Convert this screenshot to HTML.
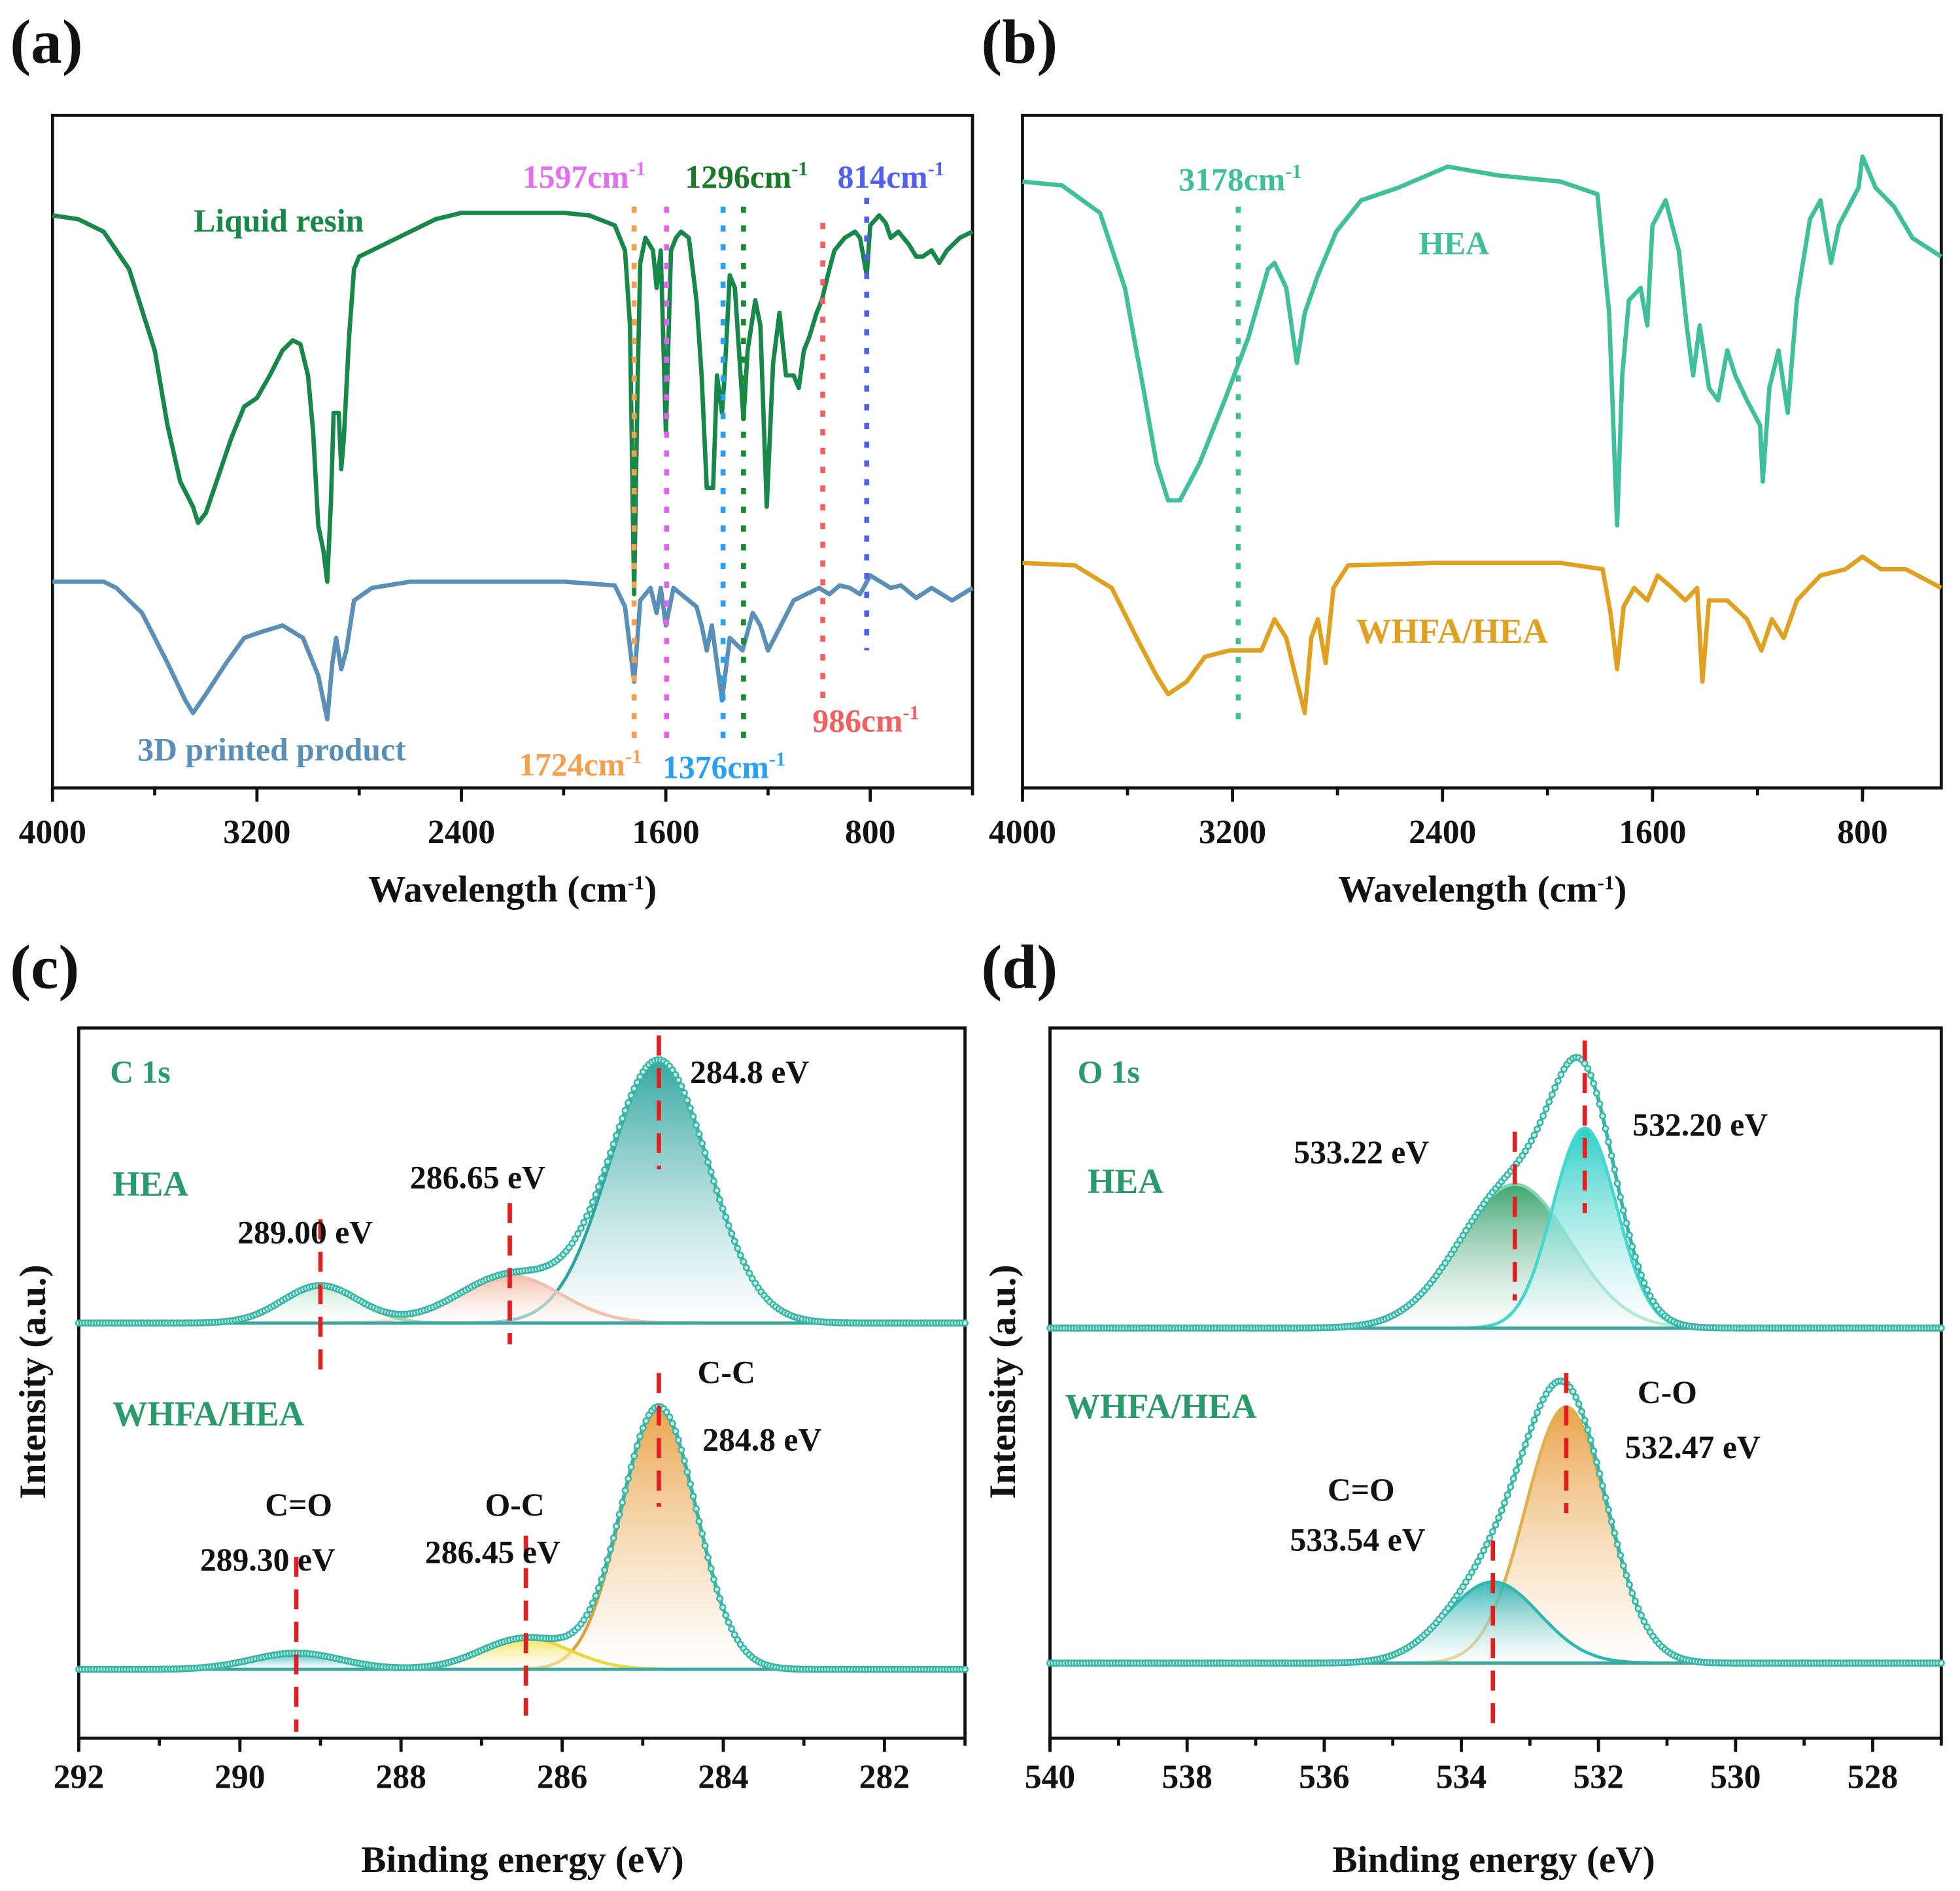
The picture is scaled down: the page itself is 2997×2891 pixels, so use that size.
<!DOCTYPE html>
<html><head><meta charset="utf-8">
<style>
html,body{margin:0;padding:0;background:#fff;}
svg{display:block;}
text{font-family:"Liberation Serif",serif;font-weight:bold;}
</style></head>
<body>
<svg id="fig" xmlns="http://www.w3.org/2000/svg" width="2997" height="2891" viewBox="0 0 1568 1512">
<defs>
<linearGradient id="gTeal" x1="0" y1="0" x2="0" y2="1"><stop offset="0" stop-color="#1f9e98"/><stop offset="1" stop-color="#ffffff" stop-opacity="0.6"/></linearGradient>
<linearGradient id="gSalmon" x1="0" y1="0" x2="0" y2="1"><stop offset="0" stop-color="#f2b8a0"/><stop offset="1" stop-color="#fff" stop-opacity="0.5"/></linearGradient>
<linearGradient id="gPale" x1="0" y1="0" x2="0" y2="1"><stop offset="0" stop-color="#bfe8cf"/><stop offset="1" stop-color="#fff" stop-opacity="0.5"/></linearGradient>
<linearGradient id="gOrange" x1="0" y1="0" x2="0" y2="1"><stop offset="0" stop-color="#e79a36"/><stop offset="1" stop-color="#fff" stop-opacity="0.6"/></linearGradient>
<linearGradient id="gYellow" x1="0" y1="0" x2="0" y2="1"><stop offset="0" stop-color="#f0e040"/><stop offset="1" stop-color="#fff" stop-opacity="0.5"/></linearGradient>
<linearGradient id="gGreen" x1="0" y1="0" x2="0" y2="1"><stop offset="0" stop-color="#2a9a60"/><stop offset="1" stop-color="#fff" stop-opacity="0.5"/></linearGradient>
<linearGradient id="gCyan" x1="0" y1="0" x2="0" y2="1"><stop offset="0" stop-color="#18c8c0"/><stop offset="1" stop-color="#fff" stop-opacity="0.5"/></linearGradient>
<linearGradient id="gTeal2" x1="0" y1="0" x2="0" y2="1"><stop offset="0" stop-color="#26b0b0"/><stop offset="1" stop-color="#fff" stop-opacity="0.5"/></linearGradient>
</defs>
</svg>
<script>
// ===== Panel (a) FTIR data (wavenumber, transmittance a.u.) =====
const resinWn = [4000,3900,3800,3700,3600,3550,3500,3450,3430,3400,3350,3300,3250,3200,3150,3100,3060,3030,3000,2980,2960,2940,2925,2910,2900,2880,2870,2860,2840,2820,2800,2700,2600,2500,2400,2300,2000,1900,1800,1760,1740,1724,1710,1700,1680,1650,1636,1620,1600,1580,1560,1540,1510,1480,1460,1440,1415,1400,1380,1370,1350,1330,1296,1280,1250,1230,1205,1180,1155,1130,1100,1080,1060,1040,1010,990,960,940,900,860,840,814,800,765,740,720,690,650,620,595,560,530,500,450,400];
const resinT  = [458,455,445,415,350,290,245,225,212,220,250,280,305,312,330,350,358,355,330,285,210,190,165,230,300,300,255,280,360,415,425,435,445,455,460,460,460,458,450,430,370,155,330,420,440,430,400,430,285,430,440,445,440,390,330,240,240,330,300,330,410,400,295,350,390,370,225,340,380,330,330,320,350,360,380,390,415,430,440,445,440,410,450,458,452,440,445,435,425,425,430,420,430,440,445];
const printWn = [4000,3900,3800,3750,3650,3550,3480,3450,3400,3320,3250,3180,3100,3020,2960,2925,2905,2890,2870,2850,2820,2750,2600,2000,1800,1760,1724,1700,1660,1636,1620,1600,1570,1540,1480,1460,1440,1420,1380,1350,1300,1260,1230,1200,1150,1100,1050,1000,960,920,880,840,800,760,720,680,620,560,480,400];
const printT  = [165,165,165,160,140,100,70,60,75,100,120,125,130,120,90,55,100,120,95,110,150,160,165,165,162,145,85,150,160,140,160,130,160,155,145,130,110,130,70,120,110,140,130,110,130,150,155,160,155,162,160,155,170,165,160,162,152,160,150,160];
// ===== Panel (b) FTIR data =====
const heaWn = [4000,3850,3705,3610,3540,3490,3445,3400,3325,3230,3140,3065,3040,2995,2955,2925,2875,2805,2710,2570,2380,2190,1950,1810,1765,1735,1715,1690,1645,1620,1600,1550,1500,1470,1445,1420,1385,1350,1315,1285,1240,1190,1180,1155,1120,1085,1050,1000,960,920,890,815,800,750,680,610,500];
const heaT  = [485,482,460,400,320,260,230,230,260,310,360,415,420,400,340,380,410,445,470,480,497,490,485,475,380,210,330,390,400,370,450,470,430,370,330,370,320,310,350,330,310,290,245,320,350,300,390,455,470,420,450,480,505,480,465,440,425];
const whfaWn = [4000,3800,3660,3565,3490,3445,3375,3305,3210,3090,3040,2995,2955,2925,2900,2875,2845,2815,2760,2430,1950,1790,1760,1735,1710,1670,1620,1580,1525,1475,1430,1410,1385,1315,1240,1185,1145,1100,1050,960,865,800,730,635,500];
const whfaT  = [180,178,160,120,90,75,85,105,110,110,135,120,85,60,120,135,100,160,178,180,180,175,140,95,145,160,150,170,160,150,160,85,150,150,135,110,135,120,150,170,175,185,175,175,160];
// ===== Panel (c) XPS C1s components =====
const c1sHeaCenters = [284.8,286.65,289.00];
const c1sHeaHeights = [210,38,30];
const c1sHeaFwhm    = [1.45,1.5,1.1];
const c1sHeaOffset  = 332;
const c1sWhfaCenters = [284.8,286.45,289.30];
const c1sWhfaHeights = [210,25,13];
const c1sWhfaFwhm    = [1.1,1.3,1.3];
const c1sWhfaOffset  = 55;
// ===== Panel (d) XPS O1s components =====
const o1sHeaCenters = [533.22,532.20];
const o1sHeaHeights = [115,160];
const o1sHeaFwhm    = [1.9,1.1];
const o1sHeaOffset  = 328;
const o1sWhfaCenters = [532.47,533.54];
const o1sWhfaHeights = [205,65];
const o1sWhfaFwhm    = [1.4,1.6];
const o1sWhfaOffset  = 60;
// tick labels
const ftirTicks = [4000,3200,2400,1600,800];
const c1sTicks = [292,290,288,286,284,282];
const o1sTicks = [540,538,536,534,532,530,528];

const NS="http://www.w3.org/2000/svg";
const svg=document.getElementById('fig');
function el(tag,attrs,parent){const e=document.createElementNS(NS,tag);for(const k in attrs)e.setAttribute(k,attrs[k]);(parent||svg).appendChild(e);return e;}
function txt(s,x,y,size,fill,anchor,parent){const t=el('text',{x:x,y:y,'font-size':size,fill:fill||'#111','text-anchor':anchor||'start'},parent);t.textContent=s;return t;}
function lin(d0,d1,r0,r1){return v=>r0+(v-d0)*(r1-r0)/(d1-d0);}

function frame(g,x0,y0,x1,y1){const r=el('rect',{x:x0,y:y0,width:x1-x0,height:y1-y0,fill:'none',stroke:'#111','stroke-width':2.5},g);}
function xaxis(g,sx,ticks,minorStep,dmin,dmax,y,labY){
  const ag=el('g',{},g);
  for(let v=Math.max(dmin,dmax);v>=Math.min(dmin,dmax)-1e-6;v-=minorStep){const x=sx(v);el('line',{x1:x,y1:y,x2:x,y2:y+6,stroke:'#111','stroke-width':2.5},ag);}
  ticks.forEach(v=>{const x=sx(v);el('line',{x1:x,y1:y,x2:x,y2:y+11,stroke:'#111','stroke-width':2.5},ag);const t=txt(String(v),x,labY,27,'#111','middle',ag);});
}
function curve(g,xs,ys,sx,sy,color,w,name){
  let d='';xs.forEach((v,i)=>{d+=(i?'L':'M')+sx(v).toFixed(1)+' '+sy(ys[i]).toFixed(1);});
  const p=el('path',{d:d,fill:'none',stroke:color,'stroke-width':w,'stroke-linejoin':'round'},g);
  return p;
}
function vdot(g,x,y0,y1,color,name){const l=el('line',{x1:x,y1:y0,x2:x,y2:y1,stroke:color,'stroke-width':4,'stroke-dasharray':'5 10'},g);}
function sup(t,base,s){const ts=el('tspan',{},t);ts.textContent=base;const s2=el('tspan',{dy:-10,'font-size':16},t);s2.textContent=s;}

// ---------- Panel (a) ----------
const ga=el('g',{});
const ax=lin(4000,400,42,778), ay=lin(0,538,630,92);
frame(ga,42,92,778,630);
curve(ga,resinWn,resinT,ax,ay,'#17874a',3.5,'liquid-resin-line');
curve(ga,printWn,printT,ax,ay,'#5a90b8',3.5,'printed-product-line');
vdot(ga,ax(1724),165,590,'#f5a050','marker-1724');
vdot(ga,ax(1597),165,590,'#e060f0','marker-1597');
vdot(ga,ax(1376),165,600,'#2aa0f0','marker-1376');
vdot(ga,ax(1296),165,590,'#1a8a30','marker-1296');
vdot(ga,ax(986),178,560,'#f06060','marker-986');
vdot(ga,ax(814),158,520,'#5060f0','marker-814');
xaxis(ga,ax,ftirTicks,400,4000,400,630,674);
{let t=txt('',418,150,26,'#e070f0');sup(t,'1597cm','-1');}
{let t=txt('',548,150,26,'#1a7a2a');sup(t,'1296cm','-1');}
{let t=txt('',670,150,26,'#5060f0');sup(t,'814cm','-1');}
{let t=txt('Liquid resin',155,185,26,'#17874a');}
{let t=txt('3D printed product',110,608,26,'#5a90b8');}
{let t=txt('',415,620,26,'#f5a050');sup(t,'1724cm','-1');}
{let t=txt('',530,622,26,'#2aa0f0');sup(t,'1376cm','-1');}
{let t=txt('',650,585,26,'#f06060');sup(t,'986cm','-1');}
{let t=txt('',410,721,30,'#111','middle');sup(t,'Wavelength (cm','-1');const c=el('tspan',{dy:10},t);c.textContent=')';}
{let t=txt('(a)',8,50,50,'#111');}

// ---------- Panel (b) ----------
const gb=el('g',{});
const bx=lin(4000,500,818,1553), by=lin(0,538,630,92);
frame(gb,818,92,1553,630);
curve(gb,heaWn,heaT,bx,by,'#40c09a',3.5,'hea-line');
curve(gb,whfaWn,whfaT,bx,by,'#e0a020',3.5,'whfa-hea-line');
vdot(gb,bx(3178),165,585,'#40c09a','marker-3178');
xaxis(gb,bx,ftirTicks,400,4000,500,630,674);
{let t=txt('',943,152,26,'#40c09a');sup(t,'3178cm','-1');}
{let t=txt('HEA',1135,203,26,'#40c09a');}
{let t=txt('WHFA/HEA',1085,514,28,'#e0a020');}
{let t=txt('',1186,721,30,'#111','middle');sup(t,'Wavelength (cm','-1');const c=el('tspan',{dy:10},t);c.textContent=')';}
{let t=txt('(b)',785,50,50,'#111');}

// ---------- XPS helpers ----------
function gauss(x,c,h,f){return h*Math.exp(-4*Math.LN2*Math.pow((x-c)/f,2));}
function xps(g,sx,sy,dmin,dmax,centers,heights,fwhm,offset,fills,strokes,names){
  const N=300;
  centers.forEach((c,i)=>{
    let d='M'+sx(dmax)+' '+sy(offset);
    for(let k=0;k<=N;k++){const x=dmax-(dmax-dmin)*k/N;d+='L'+sx(x).toFixed(1)+' '+sy(offset+gauss(x,c,heights[i],fwhm[i])).toFixed(1);}
    d+='L'+sx(dmin)+' '+sy(offset)+'Z';
    const p=el('path',{d:d,fill:fills[i],stroke:strokes[i],'stroke-width':2.5,'fill-opacity':0.9},g);
    
  });
  const bl=el('line',{x1:sx(dmax),y1:sy(offset),x2:sx(dmin),y2:sy(offset),stroke:'#3aa8a0','stroke-width':2.5},g);
  
  let d='';
  const pts=[];
  for(let k=0;k<=N;k++){const x=dmax-(dmax-dmin)*k/N;let y=offset;centers.forEach((c,i)=>{y+=gauss(x,c,heights[i],fwhm[i]);});pts.push([sx(x),sy(y)]);d+=(k?'L':'M')+sx(x).toFixed(1)+' '+sy(y).toFixed(1);}
  const env=el('g',{},g);
  el('path',{d:d,fill:'none',stroke:'#3ab5a5','stroke-width':3},env);
  pts.forEach(p=>{el('circle',{cx:p[0].toFixed(1),cy:p[1].toFixed(1),r:2.2,fill:'#bff0e8',stroke:'#3ab5a5','stroke-width':1.3},env);});
}
function rdash(g,x,y0,y1,name){const l=el('line',{x1:x,y1:y0,x2:x,y2:y1,stroke:'#e02020','stroke-width':3.5,'stroke-dasharray':'16 10'},g);}
function lab(s,x,y,col,size,name,g,anchor){const t=txt(s,x,y,size||26,col||'#111',anchor||'start',g);return t;}

// ---------- Panel (c) ----------
const gc=el('g',{});
const cx=lin(292,281,63,772), cy=lin(0,568,1390,822);
frame(gc,63,822,772,1390);
xps(gc,cx,cy,281,292,c1sHeaCenters,c1sHeaHeights,c1sHeaFwhm,c1sHeaOffset,['url(#gTeal)','url(#gSalmon)','url(#gPale)'],['#2aa6a0','#f0c0b0','#9fd8b8'],['hea-peak-284-8','hea-peak-286-65','hea-peak-289-00']);
xps(gc,cx,cy,281,292,c1sWhfaCenters,c1sWhfaHeights,c1sWhfaFwhm,c1sWhfaOffset,['url(#gOrange)','url(#gYellow)','url(#gTeal2)'],['#e0a040','#e8d840','#60c0c0'],['whfa-peak-284-8','whfa-peak-286-45','whfa-peak-289-30']);
rdash(gc,cx(284.8),828,935,'c-dash-284-8-top');
rdash(gc,cx(286.65),962,1075,'c-dash-286-65-top');
rdash(gc,cx(289.00),975,1100,'c-dash-289-top');
rdash(gc,cx(284.8),1098,1205,'c-dash-284-8-bottom');
rdash(gc,cx(286.45),1228,1372,'c-dash-286-45-bottom');
rdash(gc,cx(289.30),1245,1385,'c-dash-289-30-bottom');
xaxis(gc,cx,c1sTicks,1,292,281,1390,1430);
lab('C 1s',88,866,'#2a9a6a',26,'c1s-label',gc);
lab('HEA',90,956,'#2a9a6a',28,'hea-label-c',gc);
lab('WHFA/HEA',90,1140,'#2a9a6a',28,'whfa-hea-label-c',gc);
lab('284.8 eV',552,866,'#111',26,'label-284-8-top',gc);
lab('286.65 eV',328,950,'#111',26,'label-286-65',gc);
lab('289.00 eV',190,994,'#111',26,'label-289-00',gc);
lab('C-C',558,1106,'#111',26,'label-cc',gc);
lab('284.8 eV',562,1160,'#111',26,'label-284-8-bottom',gc);
lab('O-C',388,1212,'#111',26,'label-oc',gc);
lab('286.45 eV',340,1250,'#111',26,'label-286-45',gc);
lab('C=O',212,1212,'#111',26,'label-co-c',gc);
lab('289.30 eV',160,1256,'#111',26,'label-289-30',gc);
lab('Binding energy (eV)',418,1497,'#111',30,'x-axis-title-c',gc,'middle');
{const t=lab('Intensity (a.u.)',0,0,'#111',30,'y-axis-title-c',gc,'middle');t.setAttribute('transform','translate(36,1105) rotate(-90)');}
lab('(c)',8,790,'#111',50,'panel-label-c',gc);

// ---------- Panel (d) ----------
const gd=el('g',{});
const dx=lin(540,527,840,1553), dy=lin(0,568,1390,822);
frame(gd,840,822,1553,1390);
xps(gd,dx,dy,527,540,o1sHeaCenters,o1sHeaHeights,o1sHeaFwhm,o1sHeaOffset,['url(#gGreen)','url(#gCyan)'],['#7fd8b0','#40d8d0'],['hea-peak-533-22','hea-peak-532-20']);
xps(gd,dx,dy,527,540,o1sWhfaCenters,o1sWhfaHeights,o1sWhfaFwhm,o1sWhfaOffset,['url(#gOrange)','url(#gTeal2)'],['#e0b050','#30b8b0'],['whfa-peak-532-47','whfa-peak-533-54']);
rdash(gd,dx(532.20),832,970,'d-dash-532-20');
rdash(gd,dx(533.22),905,1040,'d-dash-533-22');
rdash(gd,dx(532.47),1098,1210,'d-dash-532-47');
rdash(gd,dx(533.54),1232,1380,'d-dash-533-54');
xaxis(gd,dx,o1sTicks,1,540,527,1390,1430);
lab('O 1s',862,866,'#2a9a6a',26,'o1s-label',gd);
lab('HEA',870,954,'#2a9a6a',28,'hea-label-d',gd);
lab('WHFA/HEA',852,1134,'#2a9a6a',28,'whfa-hea-label-d',gd);
lab('533.22 eV',1035,930,'#111',26,'label-533-22',gd);
lab('532.20 eV',1306,908,'#111',26,'label-532-20',gd);
lab('C-O',1310,1122,'#111',26,'label-c-o',gd);
lab('532.47 eV',1300,1166,'#111',26,'label-532-47',gd);
lab('C=O',1062,1200,'#111',26,'label-co-d',gd);
lab('533.54 eV',1032,1240,'#111',26,'label-533-54',gd);
lab('Binding energy (eV)',1195,1497,'#111',30,'x-axis-title-d',gd,'middle');
{const t=lab('Intensity (a.u.)',0,0,'#111',30,'y-axis-title-d',gd,'middle');t.setAttribute('transform','translate(812,1105) rotate(-90)');}
lab('(d)',785,790,'#111',50,'panel-label-d',gd);
</script>
</body></html>
